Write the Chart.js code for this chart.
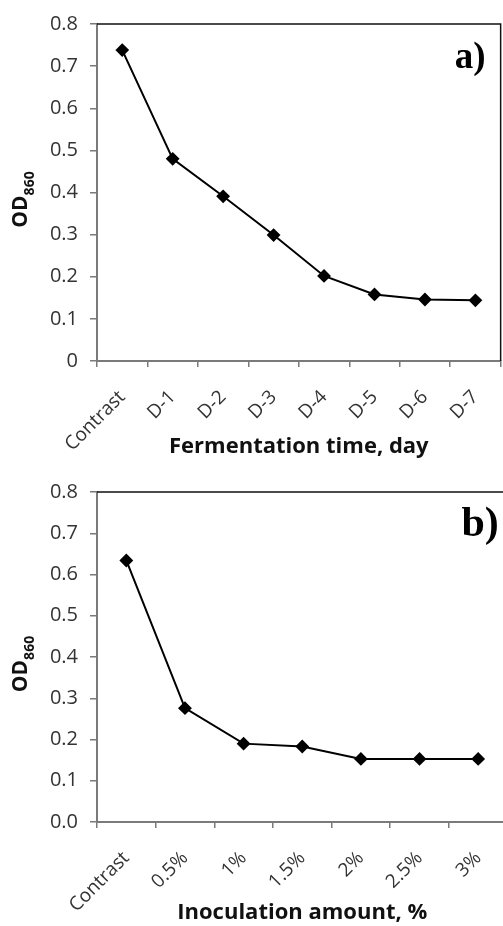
<!DOCTYPE html>
<html>
<head>
<meta charset="utf-8">
<script src="https://cdn.jsdelivr.net/npm/chart.js@4.4.0/dist/chart.umd.min.js"></script>
<style>
html, body { margin: 0; padding: 0; overflow: hidden; background: #fff; width: 503px; height: 926px; }
canvas { position: absolute; left: 0; }
#chartA { top: 0; }
#chartB { top: 460px; }
</style>
</head>
<body>
<canvas id="chartA" width="511" height="460"></canvas>
<canvas id="chartB" width="515" height="466"></canvas>
<script>
// panel a) fermentation time
var daysLabels = ['Contrast', 'D-1', 'D-2', 'D-3', 'D-4', 'D-5', 'D-6', 'D-7'];
var daysOD = [0.738, 0.480, 0.391, 0.299, 0.202, 0.158, 0.146, 0.144];

// panel b) inoculation amount
var doseLabels = ['Contrast', '0.5%', '1%', '1.5%', '2%', '2.5%', '3%'];
var doseOD = [0.634, 0.276, 0.190, 0.183, 0.153, 0.153, 0.153];

var axisGrey = '#7a7a7a';
var tickGrey = '#333333';

// top frame line + panel letter + subscripted y title
var decor = {
	id: 'decor',
	afterDraw: function(chart, args, opts){
		var ctx = chart.ctx, a = chart.chartArea;
		ctx.save();
		ctx.strokeStyle = '#111';
		ctx.lineWidth = 1.5;
		ctx.beginPath();
		ctx.moveTo(a.left, a.top);
		ctx.lineTo(a.right, a.top);
		ctx.lineTo(a.right, a.bottom);
		ctx.stroke();

		ctx.fillStyle = '#000';
		ctx.font = 'bold ' + opts.letterSize + 'px "Liberation Serif"';
		ctx.textBaseline = 'alphabetic';
		ctx.textAlign = 'left';
		ctx.fillText(opts.letter, a.right - 46, a.top + 44);

		// OD860 rotated
		var cy = (a.top + a.bottom) / 2 + 7;
		ctx.translate(27, cy);
		ctx.rotate(-Math.PI / 2);
		ctx.font = 'bold 21px "Open Sans"';
		var w1 = ctx.measureText('OD').width;
		ctx.font = 'bold 14px "Open Sans"';
		var w2 = ctx.measureText('860').width;
		var x0 = -(w1 + w2) / 2;
		ctx.fillStyle = '#111';
		ctx.font = 'bold 21px "Open Sans"';
		ctx.fillText('OD', x0, 0);
		ctx.font = 'bold 14px "Open Sans"';
		ctx.fillText('860', x0 + w1, 7);
		ctx.restore();
	}
};

function makeChart(id, labels, values, xTitle, letter, letterSize, topPad, xHeight, yFmt){
	var ctx = document.getElementById(id).getContext('2d');
	return new Chart(ctx, {
		type: 'line',
		data: {
			labels: labels,
			datasets: [{
				data: values,
				borderColor: '#000',
				borderWidth: 2,
				backgroundColor: '#000',
				pointStyle: 'rectRot',
				pointRadius: 5.5,
				pointBackgroundColor: '#000',
				pointBorderColor: '#000',
				tension: 0
			}]
		},
		options: {
			responsive: false,
			animation: false,
			devicePixelRatio: 1,
			layout: { padding: { top: topPad, left: 0, right: 0, bottom: 0 } },
			plugins: {
				legend: { display: false },
				tooltip: { enabled: false },
				decor: { letter: letter, letterSize: letterSize }
			},
			scales: {
				x: {
					type: 'category',
					offset: true,
					grid: { display: true, offset: true, drawOnChartArea: false, drawTicks: true, tickLength: 6, color: axisGrey, lineWidth: 1.5 },
					border: { color: axisGrey, width: 2 },
					ticks: { autoSkip: false, minRotation: 45, maxRotation: 45, padding: 19, color: tickGrey, font: { family: 'Open Sans', size: 19 } },
					title: { display: true, text: xTitle, color: '#111', padding: { top: 0, bottom: 0 }, font: { family: 'Open Sans', size: 22, weight: 'bold' } },
					afterFit: function(s){ s.height = xHeight; }
				},
				y: {
					min: 0,
					max: 0.8,
					grid: { display: true, drawOnChartArea: false, drawTicks: true, tickLength: 7, color: axisGrey, lineWidth: 1.5 },
					border: { color: axisGrey, width: 2 },
					ticks: { stepSize: 0.1, padding: 12, color: tickGrey, font: { family: 'Open Sans', size: 20 }, callback: yFmt },
					afterFit: function(s){ s.width = 97; }
				}
			}
		},
		plugins: [decor]
	});
}

makeChart('chartA', daysLabels, daysOD, 'Fermentation time, day', 'a)', 37, 22, 99,
	function(v){ return Math.abs(v) < 1e-9 ? '0' : v.toFixed(1); });
makeChart('chartB', doseLabels, doseOD, 'Inoculation amount, %', 'b)', 42, 32, 104,
	function(v){ return v.toFixed(1); });
</script>
</body>
</html>
